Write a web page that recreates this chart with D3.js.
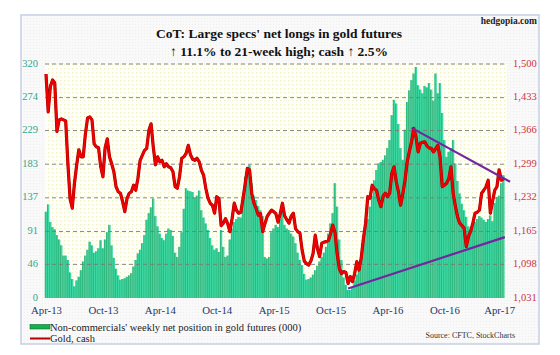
<!DOCTYPE html>
<html><head><meta charset="utf-8">
<script src="https://cdn.jsdelivr.net/npm/d3@7"></script>
<style>html,body{margin:0;padding:0;background:#fff;}svg{display:block;}</style>
</head><body>
<svg id="chart" width="560" height="355"></svg>
<script>
// Weekly net position of non-commercials in gold futures (000), Apr-2013 .. Apr-2017
const netLongs = [
118,128,104,97,94,86,80,72,58,58,52,35,26,16,24,29,38,50,58,66,
77,72,62,64,68,79,68,80,90,100,72,55,40,31,25,26,27,29,31,34,
43,52,61,66,75,86,107,116,124,136,112,98,88,82,79,88,95,93,85,62,
56,70,90,122,150,147,146,145,137,140,147,120,110,102,93,82,72,66,68,63,
93,70,56,58,80,95,104,108,111,110,128,166,175,182,157,140,134,126,120,112,
56,54,56,90,95,100,97,108,125,100,95,93,88,84,75,62,52,45,33,25,
26,28,32,38,44,50,56,62,70,88,102,116,157,125,80,52,28,18,11,11,
14,24,32,40,44,80,98,108,125,140,161,175,184,186,189,195,205,216,250,271,
266,238,205,189,230,268,284,298,307,316,291,285,280,290,288,294,285,270,307,280,
294,253,216,193,200,205,216,184,160,143,129,120,111,98,89,98,104,108,112,110,
107,104,108,113,105,130,138,140,157,168
];
// Gold, cash (weekly)
const goldCash = [
1480,1404,1455,1468,1462,1365,1388,1390,1388,1386,1300,1230,1211,1261,1297,1328,1314,1314,1360,1392,
1394,1388,1340,1334,1332,1294,1274,1332,1350,1314,1300,1284,1254,1244,1241,1224,1204,1230,1241,1244,
1257,1247,1271,1307,1317,1327,1331,1367,1380,1334,1298,1314,1304,1307,1294,1300,1294,1292,1284,1254,
1251,1274,1311,1314,1321,1337,1318,1309,1307,1311,1304,1287,1277,1251,1231,1221,1217,1201,1234,1230,
1176,1181,1190,1180,1164,1190,1221,1207,1201,1203,1230,1260,1291,1288,1240,1221,1210,1197,1200,1164,
1180,1194,1201,1207,1204,1200,1183,1200,1221,1196,1188,1181,1195,1201,1170,1164,1161,1127,1105,1100,
1097,1105,1120,1157,1130,1114,1141,1143,1144,1146,1160,1177,1163,1120,1090,1080,1084,1082,1060,1074,
1064,1080,1104,1087,1111,1150,1181,1234,1231,1257,1250,1247,1227,1214,1235,1241,1234,1241,1281,1294,
1264,1244,1217,1240,1267,1304,1325,1344,1371,1354,1324,1341,1343,1344,1336,1332,1331,1324,1330,1337,
1314,1254,1257,1261,1270,1294,1241,1215,1194,1181,1176,1171,1134,1154,1165,1181,1201,1203,1207,1241,
1247,1254,1267,1201,1225,1247,1254,1288,1267,1270
];
const xTickLabels = ["Apr-13","Oct-13","Apr-14","Oct-14","Apr-15","Oct-15","Apr-16","Oct-16","Apr-17"];
const xTickIndex = [0,26,52,78,104,130,156,182,207];
const leftTicks = [0,46,91,137,183,229,274,320];
const rightTicks = [1031,1098,1165,1232,1299,1366,1433,1500];
// trend lines drawn on gold: [week index, price]
const supportLine = [[138,1050],[209.6,1153]];
const resistanceLine = [[167,1372],[212,1264]];

const svg = d3.select("#chart");
const fr = {x:21, y:15, w:518, h:329};
const pa = {l:45, r:507, t:64, b:298};

// patterns
const defs = svg.append("defs");
const pf = defs.append("pattern").attr("id","frameTex").attr("width",3).attr("height",3).attr("patternUnits","userSpaceOnUse");
pf.append("rect").attr("width",3).attr("height",3).attr("fill","#f9f9f9");
pf.append("rect").attr("width",1).attr("height",1).attr("fill","#efefef");
const pp = defs.append("pattern").attr("id","plotTex").attr("width",4).attr("height",4).attr("patternUnits","userSpaceOnUse");
pp.append("rect").attr("width",4).attr("height",4).attr("fill","#fffffa");
pp.append("rect").attr("width",1.3).attr("height",1.3).attr("fill","#f3efc4");

svg.append("rect").attr("x",fr.x).attr("y",fr.y).attr("width",fr.w).attr("height",fr.h)
  .attr("fill","url(#frameTex)").attr("stroke","#c6d0e4").attr("stroke-width",1.5);
svg.append("rect").attr("x",pa.l).attr("y",pa.t).attr("width",pa.r-pa.l).attr("height",pa.b-pa.t)
  .attr("fill","url(#plotTex)");

const x = d3.scaleLinear().domain([0, netLongs.length-1]).range([46, 503.5]);
const yL = d3.scaleLinear().domain([0,320]).range([pa.b, pa.t]);
const yR = d3.scaleLinear().domain([1031,1500]).range([pa.b, pa.t]);
const step = x(1)-x(0);

// bars
svg.append("g").selectAll("rect").data(netLongs).join("rect")
  .attr("x",(d,i)=>x(i)-step/2).attr("width",step+0.05)
  .attr("y",d=>yL(d)).attr("height",d=>yL(0)-yL(d))
  .attr("fill","#3ed8a2");
svg.append("g").selectAll("line").data(netLongs).join("line")
  .attr("x1",(d,i)=>x(i)-step/2+0.3).attr("x2",(d,i)=>x(i)-step/2+0.3)
  .attr("y1",d=>yL(d)).attr("y2",yL(0))
  .attr("stroke","#129457").attr("stroke-width",0.55);

// gridlines
svg.append("g").selectAll("line").data(leftTicks.slice(1)).join("line")
  .attr("x1",pa.l).attr("x2",pa.r).attr("y1",d=>yL(d)).attr("y2",d=>yL(d))
  .attr("stroke","#7a7a7a").attr("stroke-width",0.9).attr("stroke-dasharray","4,3");

// axes (text only)
const axL = d3.axisLeft(yL).tickValues(leftTicks).tickSize(0).tickPadding(0).tickFormat(d3.format("d"));
const gL = svg.append("g").attr("transform","translate(38,0)").call(axL);
gL.select(".domain").remove();
gL.selectAll("text").attr("dy","0.2em").attr("fill","#33a58a").attr("font-family","'Liberation Serif', serif").attr("font-size",10.5);

const axR = d3.axisRight(yR).tickValues(rightTicks).tickSize(0).tickPadding(0).tickFormat(d3.format(","));
const gR = svg.append("g").attr("transform","translate(513,0)").call(axR);
gR.select(".domain").remove();
gR.selectAll("text").attr("dy","0.2em").attr("fill","#cc3344").attr("font-family","'Liberation Serif', serif").attr("font-size",10.5);

const axB = d3.axisBottom(x).tickValues(xTickIndex).tickSize(0).tickPadding(0).tickFormat((d,i)=>xTickLabels[i]);
const gB = svg.append("g").attr("transform","translate(0,306)").call(axB);
gB.select(".domain").remove();
gB.selectAll("text").attr("fill","#24386a").attr("font-family","'Liberation Serif', serif").attr("font-size",10.8);

// gold line
const line = d3.line().x((d,i)=>x(i)).y(d=>yR(d)).curve(d3.curveLinear);
svg.append("path").datum(goldCash).attr("d",line).attr("fill","none")
  .attr("stroke","#a00000").attr("stroke-width",3.2).attr("stroke-linejoin","round");
svg.append("path").datum(goldCash).attr("d",line).attr("fill","none")
  .attr("stroke","#f00000").attr("stroke-width",2.2).attr("stroke-linejoin","round");

// trend lines
const tl = d3.line().x(d=>x(d[0])).y(d=>yR(d[1]));
[supportLine, resistanceLine].forEach(t=>{
  svg.append("path").datum(t).attr("d",tl).attr("fill","none")
    .attr("stroke","#7326a0").attr("stroke-width",2.2);
});

// titles
const serif = "'Liberation Serif', 'Times New Roman', serif";
svg.append("text").attr("x",279).attr("y",38).attr("text-anchor","middle")
  .attr("font-family",serif).attr("font-weight","bold").attr("font-size",13.5).attr("fill","#111")
  .text("CoT: Large specs' net longs in gold futures");
svg.append("text").attr("x",279).attr("y",56).attr("text-anchor","middle")
  .attr("font-family",serif).attr("font-weight","bold").attr("font-size",13.5).attr("fill","#111")
  .text("\u2191 11.1% to 21-week high; cash \u2191 2.5%");
svg.append("text").attr("x",537).attr("y",24).attr("text-anchor","end")
  .attr("font-family",serif).attr("font-weight","bold").attr("font-size",9.5).attr("fill","#222")
  .text("hedgopia.com");

// legend
svg.append("rect").attr("x",30).attr("y",324.5).attr("width",20).attr("height",4.5)
  .attr("fill","#14b04e").attr("stroke","#0a6b30").attr("stroke-width",0.6);
svg.append("text").attr("x",50).attr("y",331).attr("font-family",serif).attr("font-size",10.5).attr("fill","#222")
  .text("Non-commercials' weekly net position in gold futures (000)");
svg.append("line").attr("x1",30).attr("x2",50).attr("y1",338.5).attr("y2",338.5)
  .attr("stroke","#b00000").attr("stroke-width",2);
svg.append("text").attr("x",50).attr("y",342).attr("font-family",serif).attr("font-size",10.5).attr("fill","#222")
  .text("Gold, cash");
svg.append("text").attr("x",515).attr("y",338).attr("text-anchor","end").attr("font-family",serif)
  .attr("font-size",8).attr("fill","#333").text("Source: CFTC, StockCharts");
</script>
</body></html>
